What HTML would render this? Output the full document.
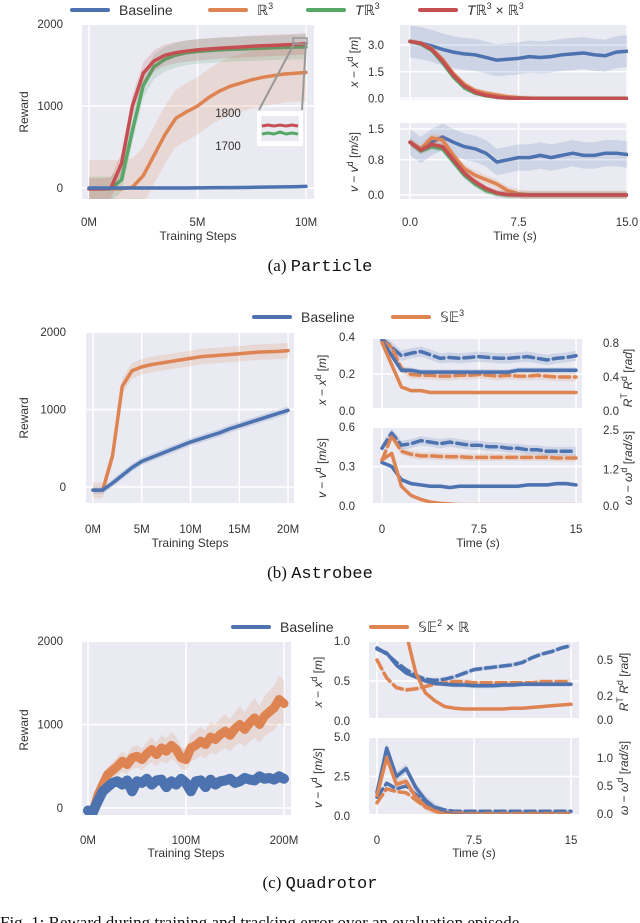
<!DOCTYPE html>
<html><head><meta charset="utf-8">
<style>
html,body{margin:0;padding:0;background:#fff;}
svg{display:block;font-family:"Liberation Sans","DejaVu Sans",sans-serif;}
.tk{font-size:11.5px;fill:#333;}
.lab{font-size:12px;fill:#333;}
.cap{font-size:17px;fill:#111;font-family:"Liberation Serif",serif;}
.mono{font-family:"Liberation Mono",monospace;}
</style></head>
<body>
<svg id="fig" width="640" height="923" viewBox="0 0 640 923"></svg>
<script>
// ---------- DATA ----------
// (a) Particle reward, steps 0..10M every 0.5M
const aSteps=[0,0.5,1,1.5,2,2.5,3,3.5,4,4.5,5,5.5,6,6.5,7,7.5,8,8.5,9,9.5,10];
const aBase=[0,0,0,0,0,0,0,0,0,0,2,3,4,5,6,8,10,12,14,16,20];
const aR3=[-10,-10,-10,-10,10,150,400,650,850,930,1000,1100,1180,1240,1280,1320,1350,1370,1390,1400,1410];
const aTR3=[-10,-10,-10,100,700,1250,1480,1570,1620,1650,1665,1675,1685,1690,1695,1700,1705,1710,1715,1718,1720];
const aTR3R3=[-10,-10,-5,300,1000,1400,1550,1620,1650,1670,1685,1695,1705,1712,1720,1728,1735,1740,1745,1750,1760];
// (a) tracking, time 0..15 every 0.75
const aTime=[0,0.75,1.5,2.25,3,3.75,4.5,5.25,6,6.75,7.5,8.25,9,9.75,10.5,11.25,12,12.75,13.5,14.25,15];
const aXBase=[3.2,3.1,2.95,2.75,2.6,2.5,2.45,2.3,2.15,2.2,2.25,2.35,2.3,2.35,2.45,2.5,2.55,2.45,2.4,2.6,2.65];
const aXR3=[3.2,3.1,2.8,2.2,1.4,0.8,0.45,0.3,0.2,0.1,0.05,0.02,0,0,0,0,0,0,0,0,0];
const aXTR3=[3.2,3.05,2.7,2.0,1.2,0.6,0.3,0.15,0.07,0.03,0.01,0,0,0,0,0,0,0,0,0,0];
const aXTR3R3=[3.2,3.1,2.75,2.1,1.3,0.7,0.35,0.18,0.08,0.03,0.01,0,0,0,0,0,0,0,0,0,0];
const aVBase=[1.2,1.02,1.2,1.32,1.2,1.1,1.05,0.95,0.75,0.8,0.85,0.85,0.9,0.85,0.9,0.95,0.9,0.9,0.95,0.95,0.92];
const aVR3=[1.2,1.05,1.3,1.25,0.9,0.6,0.45,0.35,0.25,0.1,0.03,0,0,0,0,0,0,0,0,0,0];
const aVTR3=[1.2,1.0,1.1,1.05,0.75,0.45,0.25,0.1,0.03,0,0,0,0,0,0,0,0,0,0,0,0];
const aVTR3R3=[1.2,1.02,1.15,1.1,0.8,0.5,0.3,0.15,0.05,0.01,0,0,0,0,0,0,0,0,0,0,0];
// (b) Astrobee reward, steps 0..20M every 1M
const bSteps=[0,1,2,3,4,5,6,7,8,9,10,11,12,13,14,15,16,17,18,19,20];
const bBase=[-40,-40,50,150,250,330,380,430,480,530,580,620,660,700,750,790,830,870,910,950,990];
const bSE3=[-40,-40,400,1300,1500,1550,1580,1600,1620,1640,1660,1680,1690,1700,1710,1720,1730,1740,1745,1750,1760];
const bTime=aTime;
const bXBase=[0.38,0.3,0.22,0.22,0.21,0.21,0.21,0.21,0.21,0.21,0.21,0.21,0.21,0.21,0.22,0.22,0.22,0.22,0.22,0.22,0.22];
const bXSE3=[0.37,0.25,0.13,0.11,0.11,0.1,0.1,0.1,0.1,0.1,0.1,0.1,0.1,0.1,0.1,0.1,0.1,0.1,0.1,0.1,0.1];
const bRBase=[0.85,0.75,0.65,0.68,0.7,0.66,0.62,0.63,0.62,0.63,0.64,0.63,0.62,0.62,0.63,0.64,0.62,0.6,0.62,0.63,0.65];
const bRSE3=[0.82,0.75,0.5,0.43,0.42,0.42,0.41,0.41,0.42,0.42,0.43,0.42,0.41,0.42,0.41,0.41,0.42,0.41,0.4,0.4,0.4];
const bVBase=[0.33,0.3,0.2,0.17,0.16,0.15,0.15,0.14,0.15,0.15,0.15,0.15,0.15,0.15,0.15,0.16,0.16,0.16,0.17,0.17,0.16];
const bVSE3=[0.35,0.4,0.15,0.08,0.05,0.03,0.02,0.015,0.01,0.01,0.01,0.01,0.01,0.01,0.01,0.01,0.01,0.01,0.01,0.01,0.01];
const bWBase=[1.9,2.4,2.0,2.05,2.15,2.1,2.05,2.1,2.05,2.0,2.0,1.95,1.95,1.9,1.9,1.85,1.85,1.8,1.8,1.8,1.8];
const bWSE3=[1.5,2.3,1.8,1.7,1.65,1.65,1.63,1.62,1.62,1.6,1.6,1.6,1.6,1.6,1.6,1.6,1.6,1.6,1.58,1.58,1.58];
// (c) Quadrotor reward, steps 0..200M every 5M
const cSteps=[0,5,10,15,20,25,30,35,40,45,50,55,60,65,70,75,80,85,90,95,100,105,110,115,120,125,130,135,140,145,150,155,160,165,170,175,180,185,190,195,200];
const cSE2R=[-30,-50,150,280,400,450,500,560,520,600,620,580,650,700,640,720,680,750,700,600,580,720,750,800,760,850,820,880,920,870,950,1000,940,1020,1080,1000,1100,1150,1200,1300,1250];
const cBase=[-30,-50,80,200,250,300,320,280,330,200,320,300,350,280,330,340,250,320,280,350,300,200,320,330,250,340,280,320,330,350,300,320,360,340,330,380,350,360,340,380,350];
const cTime=aTime;
const cXBase=[0.9,0.85,0.7,0.6,0.55,0.5,0.47,0.46,0.45,0.45,0.44,0.44,0.44,0.45,0.45,0.46,0.46,0.46,0.46,0.46,0.46];
const cXSE2R=[1.3,1.3,1.2,1.1,0.6,0.35,0.25,0.18,0.16,0.15,0.15,0.15,0.15,0.15,0.16,0.16,0.17,0.18,0.19,0.2,0.21];
const cRBase=[0.6,0.55,0.48,0.42,0.37,0.34,0.33,0.34,0.36,0.39,0.42,0.43,0.44,0.45,0.46,0.48,0.52,0.55,0.57,0.6,0.62];
const cRSE2R=[0.5,0.35,0.27,0.25,0.26,0.28,0.3,0.31,0.32,0.32,0.31,0.31,0.31,0.31,0.31,0.31,0.31,0.32,0.32,0.32,0.32];
const cVBase=[1.5,4.3,2.5,3.0,1.8,1.0,0.5,0.2,0.1,0.05,0.03,0.02,0.02,0.02,0.02,0.02,0.02,0.02,0.02,0.02,0.02];
const cVSE2R=[1.3,3.7,2.0,2.2,1.2,0.6,0.3,0.1,0.05,0.02,0,0,0,0,0,0,0,0,0,0,0];
const cWBase=[0.3,0.55,0.45,0.5,0.35,0.2,0.12,0.07,0.05,0.05,0.05,0.05,0.05,0.05,0.05,0.05,0.05,0.05,0.05,0.05,0.05];
const cWSE2R=[0.2,0.45,0.4,0.38,0.25,0.12,0.06,0.03,0.02,0.01,0.01,0.01,0.01,0.01,0.01,0.01,0.01,0.01,0.01,0.01,0.01];

// ---------- DRAWING ----------
const NS="http://www.w3.org/2000/svg";
const svg=document.getElementById('fig');
const BLUE="#4c72b0",ORANGE="#dd8452",GREEN="#55a868",RED="#c44e52";
let clipN=0;
function mk(tag,attrs,parent){const e=document.createElementNS(NS,tag);for(const k in attrs)e.setAttribute(k,attrs[k]);(parent||svg).appendChild(e);return e;}
function lin(d0,d1,p0,p1){return v=>p0+(v-d0)*(p1-p0)/(d1-d0);}
function txt(x,y,s,cls,anchor,name,parent){const t=mk('text',{x:x,y:y,class:cls,'text-anchor':anchor||'start'},parent);t.innerHTML=s;


return t;}
function axes(name,x0,x1,y0,y1){
  const g=mk('g',{});
  
  
  const bg=mk('rect',{x:x0,y:y0,width:x1-x0,height:y1-y0,fill:'#eaeaf2'},g);
  
  
  const id='clp'+(clipN++);
  const cp=mk('clipPath',{id:id},g);mk('rect',{x:x0,y:y0,width:x1-x0,height:y1-y0},cp);
  const grid=mk('g',{stroke:'#fff','stroke-width':1.5},g);
  const plot=mk('g',{'clip-path':'url(#'+id+')'},g);
  return {g,grid,plot,x0,x1,y0,y1};
}
function xgrid(ax,xs,vals,labels,ly,name){vals.forEach((v,i)=>{const X=xs(v);mk('line',{x1:X,x2:X,y1:ax.y0,y2:ax.y1},ax.grid);
 if(labels) txt(X,ly,labels[i],'tk','middle',name+'-tick-'+i,ax.g);});}
function ygrid(ax,ys,vals,labels,lx,name,anchor){vals.forEach((v,i)=>{const Y=ys(v);mk('line',{x1:ax.x0,x2:ax.x1,y1:Y,y2:Y},ax.grid);
 if(labels) txt(lx,Y+4,labels[i],'tk',anchor||'end',name+'-tick-'+i,ax.g);});}
function ylabelsOnly(ax,ys,vals,labels,lx,name){vals.forEach((v,i)=>{txt(lx,ys(v)+4,labels[i],'tk','start',name+'-tick-'+i,ax.g);});}
function series(ax,xs,ys,X,Y,color,name,opts){
  opts=opts||{};
  const band=opts.band||0;
  if(band){
    let up=X.map((x,i)=>xs(x)+','+ys(Y[i]+band*(opts.rel?Math.max(Math.abs(Y[i]),0.05):1))).join(' ');
    let dn=X.map((x,i)=>xs(x)+','+ys(Y[i]-band*(opts.rel?Math.max(Math.abs(Y[i]),0.05):1))).reverse().join(' ');
    const p=mk('polygon',{points:up+' '+dn,fill:color,'fill-opacity':0.18,stroke:'none'},ax.plot);
    
    
  }
  const pts=X.map((x,i)=>xs(x)+','+ys(Y[i])).join(' ');
  const l=mk('polyline',{points:pts,fill:'none',stroke:color,'stroke-width':opts.w||3.5,'stroke-linejoin':'round','stroke-linecap':'round'},ax.plot);
  if(opts.dash)l.setAttribute('stroke-dasharray',opts.dash);
  
  
}
function legendEntry(x,y,color,label,name){
  const g=mk('g',{});
  
  
  mk('line',{x1:x,x2:x+36,y1:y,y2:y,stroke:color,'stroke-width':4,'stroke-linecap':'round'},g);
  const t=mk('text',{x:x+47,y:y+5,'font-size':14,fill:'#333'},g);t.innerHTML=label;
}
function rotLabel(x,y,html,name,parent){const t=mk('text',{x:0,y:0,'font-size':12,fill:'#333','text-anchor':'middle',transform:`translate(${x},${y}) rotate(-90)`},parent);t.innerHTML=html;
 
 }

// ===== (a) Particle =====
legendEntry(72,10,BLUE,'Baseline','legend-baseline-a');
legendEntry(210,10,ORANGE,'ℝ<tspan dy="-6" font-size="9">3</tspan>','legend-r3');
legendEntry(308,10,GREEN,'<tspan font-style="italic">T</tspan>ℝ<tspan dy="-6" font-size="9">3</tspan>','legend-tr3');
legendEntry(420,10,RED,'<tspan font-style="italic">T</tspan>ℝ<tspan dy="-6" font-size="9">3</tspan><tspan dy="6"> × ℝ</tspan><tspan dy="-6" font-size="9">3</tspan>','legend-tr3-r3');
{
 const ax=axes('particle-reward-plot',82,314,25,199);
 const xs=lin(0,10,89,306), ys=lin(0,2000,188,24);
 xgrid(ax,xs,[0,5,10],['0M','5M','10M'],226,'particle-x');
 ygrid(ax,ys,[0,1000,2000],['0','1000','2000'],63,'particle-y');
 txt(198,240,'Training Steps','lab','middle','particle-x-title',ax.g);
 rotLabel(28,112,'Reward','particle-y-title',ax.g);
 series(ax,xs,ys,aSteps,aR3,ORANGE,'particle-r3-line',{band:350});
 series(ax,xs,ys,aSteps,aTR3,GREEN,'particle-tr3-line',{band:150});
 series(ax,xs,ys,aSteps,aTR3R3,RED,'particle-tr3r3-line',{band:130});
 series(ax,xs,ys,aSteps,aBase,BLUE,'particle-baseline-line',{band:20});
 // inset
 mk('rect',{x:293,y:38,width:14,height:6,fill:'none',stroke:'#999','stroke-width':1.5},ax.g);
 mk('line',{x1:259,y1:110,x2:295,y2:42,stroke:'#999','stroke-width':2},ax.g);
 mk('line',{x1:302,y1:110,x2:306,y2:42,stroke:'#999','stroke-width':2},ax.g);
 const ib=mk('rect',{x:257,y:111,width:46,height:35,fill:'#fff'},ax.g);
 
 
 mk('rect',{x:261,y:116,width:38,height:25,fill:'#eaeaf2'},ax.g);
 mk('polyline',{points:'262,126 268,125 274,126 280,125 286,126 292,125 298,126',fill:'none',stroke:RED,'stroke-width':3},ax.g);
 mk('polyline',{points:'262,134 268,133 274,134 280,132 286,134 292,133 298,134',fill:'none',stroke:GREEN,'stroke-width':3},ax.g);
 txt(228,117,'1800','tk','middle','inset-1800',ax.g);
 txt(228,150,'1700','tk','middle','inset-1700',ax.g);
}
{
 const ax=axes('particle-position-error-plot',400,628,25,100);
 const xs=lin(0,15,410,627), ys=lin(0,3,98.5,45);
 xgrid(ax,xs,[0,7.5,15],null);
 ygrid(ax,ys,[0,1.5,3],['0.0','1.5','3.0'],384,'particle-pos-y');
 rotLabel(358,62,'<tspan font-style="italic">x</tspan> − <tspan font-style="italic">x</tspan><tspan dy="-5" font-size="9">d</tspan><tspan dy="5"> [</tspan><tspan font-style="italic">m</tspan>]','particle-pos-y-title',ax.g);
 series(ax,xs,ys,aTime,aXBase,BLUE,'particle-pos-baseline',{band:0.9});
 series(ax,xs,ys,aTime,aXR3,ORANGE,'particle-pos-r3',{band:0.15});
 series(ax,xs,ys,aTime,aXTR3,GREEN,'particle-pos-tr3',{band:0.12});
 series(ax,xs,ys,aTime,aXTR3R3,RED,'particle-pos-tr3r3',{band:0.12});
}
{
 const ax=axes('particle-velocity-error-plot',400,628,123,199);
 const xs=lin(0,15,410,627), ys=lin(0,1.5,195,129);
 xgrid(ax,xs,[0,7.5,15],['0.0','7.5','15.0'],226,'particle-time');
 ygrid(ax,ys,[0,0.8,1.5],['0.0','0.8','1.5'],384,'particle-vel-y');
 txt(515,240,'Time (<tspan font-style="italic">s</tspan>)','lab','middle','particle-time-title',ax.g);
 rotLabel(358,162,'<tspan font-style="italic">v</tspan> − <tspan font-style="italic">v</tspan><tspan dy="-5" font-size="9">d</tspan><tspan dy="5"> [</tspan><tspan font-style="italic">m/s</tspan>]','particle-vel-y-title',ax.g);
 series(ax,xs,ys,aTime,aVBase,BLUE,'particle-vel-baseline',{band:0.3});
 series(ax,xs,ys,aTime,aVR3,ORANGE,'particle-vel-r3',{band:0.1});
 series(ax,xs,ys,aTime,aVTR3,GREEN,'particle-vel-tr3',{band:0.08});
 series(ax,xs,ys,aTime,aVTR3R3,RED,'particle-vel-tr3r3',{band:0.08});
}
txt(320,271,'(a) <tspan class="mono">Particle</tspan>','cap','middle','caption-particle');

// ===== (b) Astrobee =====
legendEntry(254,317,BLUE,'Baseline','legend-baseline-b');
legendEntry(393,317,ORANGE,'𝕊𝔼<tspan dy="-6" font-size="9">3</tspan>','legend-se3');
{
 const ax=axes('astrobee-reward-plot',86,294,333,503);
 const xs=lin(0,20,93,288), ys=lin(0,2000,487,332);
 xgrid(ax,xs,[0,5,10,15,20],['0M','5M','10M','15M','20M'],533,'astrobee-x');
 ygrid(ax,ys,[0,1000,2000],['0','1000','2000'],66,'astrobee-y');
 txt(190,547,'Training Steps','lab','middle','astrobee-x-title',ax.g);
 rotLabel(28,418,'Reward','astrobee-y-title',ax.g);
 series(ax,xs,ys,bSteps,bSE3,ORANGE,'astrobee-se3-line',{band:100});
 series(ax,xs,ys,bSteps,bBase,BLUE,'astrobee-baseline-line',{band:50});
}
{
 const ax=axes('astrobee-position-error-plot',373,582,339,408);
 const xs=lin(0,15,382,576), ys=lin(0,0.4,411,337), yr=lin(0,0.8,411,343);
 xgrid(ax,xs,[0,7.5,15],null);
 ygrid(ax,ys,[0,0.2,0.4],['0.0','0.2','0.4'],355,'astrobee-pos-y');
 ylabelsOnly(ax,yr,[0,0.4,0.8],['0.0','0.4','0.8'],603,'astrobee-rot-y');
 rotLabel(326,380,'<tspan font-style="italic">x</tspan> − <tspan font-style="italic">x</tspan><tspan dy="-5" font-size="9">d</tspan><tspan dy="5"> [</tspan><tspan font-style="italic">m</tspan>]','astrobee-pos-y-title',ax.g);
 rotLabel(632,378,'<tspan font-style="italic">R</tspan><tspan dy="-5" font-size="9">T</tspan><tspan dy="5" font-style="italic"> R</tspan><tspan dy="-5" font-size="9">d</tspan><tspan dy="5"> [</tspan><tspan font-style="italic">rad</tspan>]','astrobee-rot-y-title',ax.g);
 series(ax,xs,yr,bTime,bRBase,BLUE,'astrobee-rot-baseline',{band:0.06,dash:'10,5'});
 series(ax,xs,yr,bTime,bRSE3,ORANGE,'astrobee-rot-se3',{band:0.05,dash:'10,5'});
 series(ax,xs,ys,bTime,bXBase,BLUE,'astrobee-pos-baseline',{band:0.015});
 series(ax,xs,ys,bTime,bXSE3,ORANGE,'astrobee-pos-se3',{band:0.01});
}
{
 const ax=axes('astrobee-velocity-error-plot',373,582,428,503);
 const xs=lin(0,15,382,576), ys=lin(0,0.6,506,427), yr=lin(0,2.5,506,430);
 xgrid(ax,xs,[0,7.5,15],['0','7.5','15'],533,'astrobee-time');
 ygrid(ax,ys,[0,0.3,0.6],['0.0','0.3','0.6'],355,'astrobee-vel-y');
 ylabelsOnly(ax,yr,[0,1.2,2.5],['0.0','1.2','2.5'],603,'astrobee-omega-y');
 txt(478,547,'Time (<tspan font-style="italic">s</tspan>)','lab','middle','astrobee-time-title',ax.g);
 rotLabel(326,468,'<tspan font-style="italic">v</tspan> − <tspan font-style="italic">v</tspan><tspan dy="-5" font-size="9">d</tspan><tspan dy="5"> [</tspan><tspan font-style="italic">m/s</tspan>]','astrobee-vel-y-title',ax.g);
 rotLabel(632,468,'<tspan font-style="italic">ω</tspan> − <tspan font-style="italic">ω</tspan><tspan dy="-5" font-size="9">d</tspan><tspan dy="5"> [</tspan><tspan font-style="italic">rad/s</tspan>]','astrobee-omega-y-title',ax.g);
 series(ax,xs,yr,bTime,bWBase,BLUE,'astrobee-omega-baseline',{band:0.15,dash:'10,5'});
 series(ax,xs,yr,bTime,bWSE3,ORANGE,'astrobee-omega-se3',{band:0.12,dash:'10,5'});
 series(ax,xs,ys,bTime,bVBase,BLUE,'astrobee-vel-baseline',{band:0.015});
 series(ax,xs,ys,bTime,bVSE3,ORANGE,'astrobee-vel-se3',{band:0.01});
}
txt(320,578,'(b) <tspan class="mono">Astrobee</tspan>','cap','middle','caption-astrobee');

// ===== (c) Quadrotor =====
legendEntry(233,627,BLUE,'Baseline','legend-baseline-c');
legendEntry(371,627,ORANGE,'𝕊𝔼<tspan dy="-6" font-size="9">2</tspan><tspan dy="6"> × ℝ</tspan>','legend-se2-r');
{
 const ax=axes('quadrotor-reward-plot',82,291,642,815);
 const xs=lin(0,200,88,284), ys=lin(0,2000,808,641);
 xgrid(ax,xs,[0,100,200],['0M','100M','200M'],844,'quadrotor-x');
 ygrid(ax,ys,[0,1000,2000],['0','1000','2000'],63,'quadrotor-y');
 txt(186,857,'Training Steps','lab','middle','quadrotor-x-title',ax.g);
 rotLabel(28,730,'Reward','quadrotor-y-title',ax.g);
 series(ax,xs,ys,cSteps,cSE2R,ORANGE,'quadrotor-se2r-line',{band:0.22,rel:true,w:9});
 series(ax,xs,ys,cSteps,cBase,BLUE,'quadrotor-baseline-line',{band:0.15,rel:true,w:10});
}
{
 const ax=axes('quadrotor-position-error-plot',369,579,642,718);
 const xs=lin(0,15,377,571), ys=lin(0,1,721,641), yr=lin(0,0.5,720,660);
 xgrid(ax,xs,[0,7.5,15],null);
 ygrid(ax,ys,[0,0.5,1],['0.0','0.5','1.0'],350,'quadrotor-pos-y');
 ylabelsOnly(ax,yr,[0,0.2,0.5],['0.0','0.2','0.5'],597,'quadrotor-rot-y');
 rotLabel(322,682,'<tspan font-style="italic">x</tspan> − <tspan font-style="italic">x</tspan><tspan dy="-5" font-size="9">d</tspan><tspan dy="5"> [</tspan><tspan font-style="italic">m</tspan>]','quadrotor-pos-y-title',ax.g);
 rotLabel(628,682,'<tspan font-style="italic">R</tspan><tspan dy="-5" font-size="9">T</tspan><tspan dy="5" font-style="italic"> R</tspan><tspan dy="-5" font-size="9">d</tspan><tspan dy="5"> [</tspan><tspan font-style="italic">rad</tspan>]','quadrotor-rot-y-title',ax.g);
 series(ax,xs,yr,cTime,cRBase,BLUE,'quadrotor-rot-baseline',{band:0.02,dash:'10,5'});
 series(ax,xs,yr,cTime,cRSE2R,ORANGE,'quadrotor-rot-se2r',{band:0.02,dash:'10,5'});
 series(ax,xs,ys,cTime,cXBase,BLUE,'quadrotor-pos-baseline',{band:0.03});
 series(ax,xs,ys,cTime,cXSE2R,ORANGE,'quadrotor-pos-se2r',{band:0.02});
}
{
 const ax=axes('quadrotor-velocity-error-plot',369,579,738,814);
 const xs=lin(0,15,377,571), ys=lin(0,5,816,737), yr=lin(0,1,814,758);
 xgrid(ax,xs,[0,7.5,15],['0','7.5','15'],844,'quadrotor-time');
 ygrid(ax,ys,[0,2.5,5],['0.0','2.5','5.0'],350,'quadrotor-vel-y');
 ylabelsOnly(ax,yr,[0,0.5,1],['0.0','0.5','1.0'],597,'quadrotor-omega-y');
 txt(474,857,'Time (<tspan font-style="italic">s</tspan>)','lab','middle','quadrotor-time-title',ax.g);
 rotLabel(322,778,'<tspan font-style="italic">v</tspan> − <tspan font-style="italic">v</tspan><tspan dy="-5" font-size="9">d</tspan><tspan dy="5"> [</tspan><tspan font-style="italic">m/s</tspan>]','quadrotor-vel-y-title',ax.g);
 rotLabel(628,778,'<tspan font-style="italic">ω</tspan> − <tspan font-style="italic">ω</tspan><tspan dy="-5" font-size="9">d</tspan><tspan dy="5"> [</tspan><tspan font-style="italic">rad/s</tspan>]','quadrotor-omega-y-title',ax.g);
 series(ax,xs,yr,cTime,cWBase,BLUE,'quadrotor-omega-baseline',{band:0.03,dash:'10,5'});
 series(ax,xs,yr,cTime,cWSE2R,ORANGE,'quadrotor-omega-se2r',{band:0.03,dash:'10,5'});
 series(ax,xs,ys,cTime,cVBase,BLUE,'quadrotor-vel-baseline',{band:0.3});
 series(ax,xs,ys,cTime,cVSE2R,ORANGE,'quadrotor-vel-se2r',{band:0.25});
}
txt(320,888,'(c) <tspan class="mono">Quadrotor</tspan>','cap','middle','caption-quadrotor');
txt(0,928,'Fig. 1:  Reward during training and tracking error over an evaluation episode','cap','start','figure-caption');
</script>
</body></html>
